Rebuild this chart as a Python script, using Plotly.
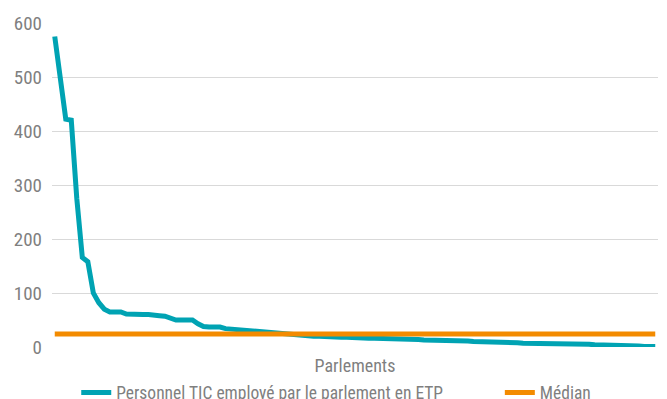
import plotly.graph_objects as go

# ICT staff (FTE) per parliament, sorted in descending order
ict_staff = [
    575, 498, 422, 420, 275, 166, 158, 100, 82, 70,
    65, 65, 65, 61, 60, 60, 60, 60, 60, 58,
    57, 53, 50, 50, 50, 50, 43, 38, 37, 37,
    37, 34, 33, 32, 31, 31, 30, 30, 28, 27,
    26, 25, 24, 23, 22, 21, 20, 20, 20, 19,
    19, 18, 18, 18, 17, 17, 17, 16, 16, 16,
    16, 15, 15, 15, 15, 14, 14, 13, 13, 12,
    12, 12, 12, 11, 11, 11, 10, 10, 10, 9,
    9, 9, 8, 8, 8, 7, 7, 7, 6, 6,
    6, 6, 6, 6, 5, 5, 5, 5, 4, 4,
    4, 4, 3, 3, 2, 2, 2, 1, 1, 1,
]
median_value = 24
parliaments = [f"P{i + 1}" for i in range(len(ict_staff))]
y_ticks = [0, 100, 200, 300, 400, 500, 600]

series_name = "Personnel TIC employé par le parlement en ETP"
median_name = "Médian"
x_title = "Parlements"

TEAL = "#00a3b3"
ORANGE = "#f38b00"
GREY_TEXT = "#7f7f7f"
FONT = "Roboto Condensed, Roboto, sans-serif"

fig = go.Figure()
fig.add_trace(go.Scatter(
    x=parliaments, y=ict_staff, mode="lines", name=series_name,
    line=dict(color=TEAL, width=5), legend="legend",
))
fig.add_trace(go.Scatter(
    x=parliaments, y=[median_value] * len(parliaments), mode="lines",
    name=median_name, line=dict(color=ORANGE, width=5), legend="legend2",
))

fig.update_layout(
    width=667, height=399,
    margin=dict(l=52, r=9, t=23, b=52, autoexpand=False),
    paper_bgcolor="white", plot_bgcolor="white",
    font=dict(family=FONT, size=17.5, color=GREY_TEXT),
    showlegend=True,
    legend=dict(orientation="h", x=0.040, xanchor="left", y=-0.085, yanchor="top",
                font=dict(size=17.5, color=GREY_TEXT), bgcolor="rgba(0,0,0,0)"),
    legend2=dict(orientation="h", x=0.739, xanchor="left", y=-0.085, yanchor="top",
                 font=dict(size=17.5, color=GREY_TEXT), bgcolor="rgba(0,0,0,0)"),
    xaxis=dict(
        type="category", range=[-0.5, len(parliaments) - 0.5],
        showticklabels=False, showgrid=False, zeroline=False, ticks="",
        title=dict(text=x_title, standoff=12, font=dict(size=18, color=GREY_TEXT)),
    ),
    yaxis=dict(
        range=[0, 600], tickvals=y_ticks, showgrid=True, gridcolor="#d9d9d9",
        gridwidth=1, zeroline=False, ticks="", ticklabelstandoff=9,
        tickfont=dict(size=19, color=GREY_TEXT),
    ),
)

fig.write_html("out.html")
